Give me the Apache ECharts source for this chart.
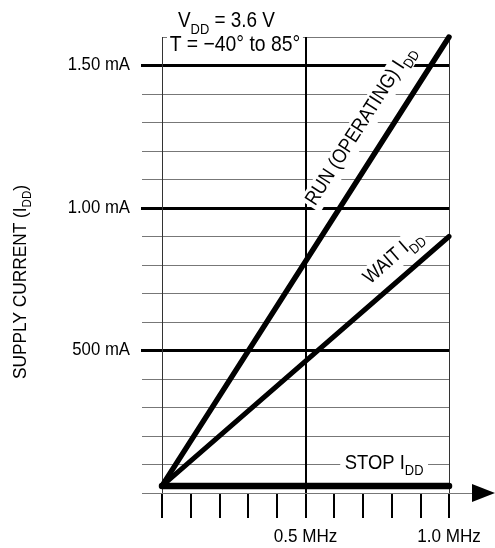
<!DOCTYPE html>
<html>
<head>
<meta charset="utf-8">
<script src="https://cdn.jsdelivr.net/npm/echarts@6/dist/echarts.min.js"></script>
<style>
html, body { margin: 0; padding: 0; background: #fff; }
#chart { width: 495px; height: 548px; }
</style>
</head>
<body>
<div id="chart"></div>
<script>
// frequency in MHz, supply current in mA
var freq = [0, 1.0];
var runIdd = [0.025, 1.6];
var waitIdd = [0.025, 0.9];
var stopIdd = [0.025, 0.025];

// grid levels and tick labels
var minorLevels = [0.1, 0.2, 0.3, 0.4, 0.6, 0.7, 0.8, 0.9, 1.1, 1.2, 1.3, 1.4];
var majorLevels = [0.5, 1.0, 1.5];
var majorLabels = ['500 mA', '1.00 mA', '1.50 mA'];
var freqTicks = [0.5, 1.0];
var freqLabels = ['0.5 MHz', '1.0 MHz'];
var edgeLines = [0, 1.0];
var midLines = [0.5];
var yMax = 1.6;

var FONT = "'Liberation Sans', Arial, Helvetica, sans-serif";

function rich(size) {
    var sub = Math.round(size * 0.68);
    return {
        a: { fontSize: size, fontFamily: FONT, fill: '#000', lineHeight: size + 2, verticalAlign: 'top' },
        s: { fontSize: sub, fontFamily: FONT, fill: '#000', lineHeight: sub, verticalAlign: 'top',
             padding: [Math.round(size * 0.55), 0, 0, 0] }
    };
}

function pairs(xs, ys) {
    return xs.map(function (x, i) { return [x, ys[i]]; });
}

// snap 1px rules onto pixel rows
function snap(v, width) {
    return width % 2 === 1 ? Math.round(v - 0.5) + 0.5 : Math.round(v);
}

// horizontal rules, drawn through the axis scale
function hLines(levels, ext, color, width) {
    return {
        type: 'custom', silent: true, z: 1,
        data: levels.map(function (v) { return [0, v]; }),
        renderItem: function (params, api) {
            var v = api.value(1);
            var a = api.coord([0, v]), b = api.coord([1, v]);
            var y = snap(a[1], width);
            return {
                type: 'line',
                shape: { x1: a[0] - ext[0], y1: y, x2: b[0] + ext[1], y2: y },
                style: { stroke: color, lineWidth: width }
            };
        }
    };
}

function vLines(levels, color, width) {
    return {
        type: 'custom', silent: true, z: 1,
        data: levels.map(function (v) { return [v, 0]; }),
        renderItem: function (params, api) {
            var v = api.value(0);
            var a = api.coord([v, 0]), b = api.coord([v, yMax]);
            var x = snap(a[0], width);
            return {
                type: 'line',
                shape: { x1: x, y1: a[1], x2: x, y2: b[1] },
                style: { stroke: color, lineWidth: width }
            };
        }
    };
}

// rotated label sitting beside a straight line
function lineLabel(xs, ys, t, offset, text, size, squeeze) {
    return {
        type: 'custom', silent: true, z: 4,
        data: [[0, 0]],
        renderItem: function (params, api) {
            var a = api.coord([xs[0], ys[0]]), b = api.coord([xs[1], ys[1]]);
            var ang = Math.atan2(a[1] - b[1], b[0] - a[0]);
            var px = a[0] + t * (b[0] - a[0]), py = a[1] + t * (b[1] - a[1]);
            return {
                type: 'text',
                x: px - Math.sin(ang) * offset,
                y: py - Math.cos(ang) * offset,
                rotation: ang, scaleX: squeeze,
                style: {
                    text: text, rich: rich(size),
                    align: 'center', verticalAlign: 'middle',
                    backgroundColor: '#fff', padding: [1, 3]
                }
            };
        }
    };
}

function lineSeries(name, ys, width) {
    return {
        name: name, type: 'line', z: 5, silent: true,
        data: pairs(freq, ys),
        symbol: 'none',
        lineStyle: { color: '#000', width: width, cap: 'round' }
    };
}

var chart = echarts.init(document.getElementById('chart'));
chart.setOption({
    animation: false,
    backgroundColor: '#fff',
    grid: { left: 162, right: 46, top: 37, bottom: 55, containLabel: false, outerBoundsMode: 'none' },
    xAxis: {
        type: 'value', min: 0, max: 1, interval: 0.1,
        axisLine: { show: false },
        axisTick: { show: true, length: 25, lineStyle: { color: '#000', width: 2 } },
        splitLine: { show: false },
        axisLabel: { show: false }
    },
    yAxis: {
        type: 'value', min: 0, max: yMax, interval: 0.1,
        axisLine: { show: false },
        axisTick: { show: false },
        splitLine: { show: false },
        axisLabel: { show: false }
    },
    graphic: [
        {
            type: 'text', x: 22, y: 282, rotation: Math.PI / 2, scaleX: 0.96, z: 100,
            style: { text: '{a|SUPPLY CURRENT (I}{s|DD}{a|)}', rich: rich(18),
                     align: 'center', verticalAlign: 'middle' }
        },
        {
            type: 'text', x: 178, y: 22, scaleX: 0.86, z: 100,
            style: { text: '{a|V}{s|DD}{a| = 3.6 V}', rich: rich(22),
                     align: 'left', verticalAlign: 'middle' }
        },
        {
            type: 'text', x: 167, y: 46, scaleX: 0.88, z: 100,
            style: { text: '{a|T = \u221240\u00b0 to 85\u00b0}', rich: rich(22),
                     align: 'left', verticalAlign: 'middle',
                     backgroundColor: '#fff', padding: [0, 3] }
        }
    ],
    series: [
        hLines(minorLevels, [20, 0], '#777', 1),
        hLines([yMax], [0, 0], '#777', 1),
        hLines(majorLevels, [21, 1], '#000', 3),
        vLines(edgeLines, '#333', 1),
        vLines(midLines, '#000', 2),
        {
            // baseline with arrow head
            type: 'custom', silent: true, z: 1,
            data: [[0, 0]],
            renderItem: function (params, api) {
                var a = api.coord([0, 0]), b = api.coord([1, 0]);
                var y = snap(a[1], 1);
                return {
                    type: 'group',
                    children: [
                        { type: 'line', shape: { x1: a[0] - 20, y1: y, x2: b[0] + 26, y2: y },
                          style: { stroke: '#777', lineWidth: 1 } },
                        { type: 'polygon',
                          shape: { points: [[b[0] + 23, b[1] - 9], [b[0] + 46, b[1]], [b[0] + 23, b[1] + 9]] },
                          style: { fill: '#000' } }
                    ]
                };
            }
        },
        {
            // current tick labels
            type: 'custom', silent: true, z: 3,
            data: majorLevels.map(function (v) { return [0, v]; }),
            renderItem: function (params, api) {
                var p = api.coord([0, api.value(1)]);
                return {
                    type: 'text', x: p[0] - 32, y: p[1], scaleX: 0.93,
                    style: { text: majorLabels[params.dataIndex], fontSize: 18, fontFamily: FONT,
                             fill: '#000', align: 'right', verticalAlign: 'middle' }
                };
            }
        },
        {
            // frequency tick labels
            type: 'custom', silent: true, z: 3,
            data: freqTicks.map(function (v) { return [v, 0]; }),
            renderItem: function (params, api) {
                var p = api.coord([api.value(0), 0]);
                return {
                    type: 'text', x: p[0], y: p[1] + 44, scaleX: 0.9,
                    style: { text: freqLabels[params.dataIndex], fontSize: 19, fontFamily: FONT,
                             fill: '#000', align: 'center', verticalAlign: 'middle' }
                };
            }
        },
        lineSeries('RUN', runIdd, 5.5),
        lineSeries('WAIT', waitIdd, 5),
        lineSeries('STOP', stopIdd, 6.5),
        lineLabel(freq, runIdd, 0.77, 26, '{a|RUN (OPERATING) I}{s|DD}', 20, 0.88),
        lineLabel(freq, waitIdd, 0.853, 20, '{a|WAIT I}{s|DD}', 20, 0.88),
        {
            type: 'custom', silent: true, z: 4,
            data: [[0.774, 0.1]],
            renderItem: function (params, api) {
                var p = api.coord([api.value(0), api.value(1)]);
                return {
                    type: 'text', x: p[0], y: p[1], scaleX: 0.92,
                    style: { text: '{a|STOP I}{s|DD}', rich: rich(20),
                             align: 'center', verticalAlign: 'middle',
                             backgroundColor: '#fff', padding: [0, 5] }
                };
            }
        }
    ]
});
</script>
</body>
</html>
